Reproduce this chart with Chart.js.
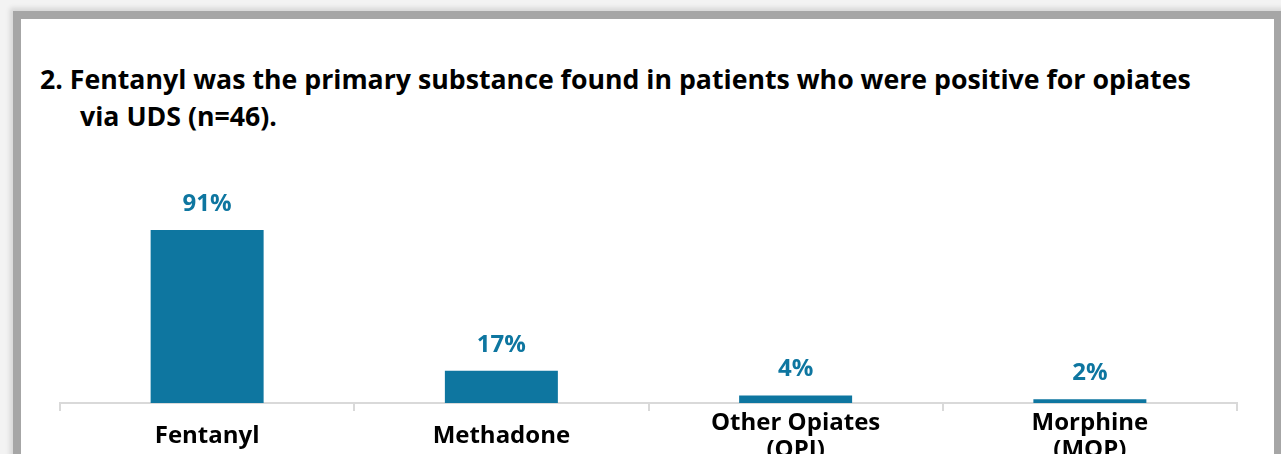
<!DOCTYPE html>
<html>
<head>
<meta charset="utf-8">
<script src="https://cdn.jsdelivr.net/npm/chart.js@4"></script>
<style>
  html, body { margin:0; padding:0; width:1281px; height:454px; overflow:hidden; background:#f3f3f3; }
  #frame { position:absolute; left:13px; top:11px; width:1253px; height:520px; background:#fff;
           border:8px solid #a6a6a6; box-shadow:0 0 5px 3px rgba(0,0,0,0.12); }
  #title { position:absolute; left:40px; top:60px; width:1230px; font-family:"Open Sans", sans-serif;
           font-weight:700; font-size:26.7px; line-height:37px; color:#000; padding-left:40px; text-indent:-40px; white-space:nowrap; }
  #wrap { position:absolute; left:21px; top:150px; width:1253px; height:330px; }
</style>
</head>
<body>
<div id="frame"></div>
<div id="title">2. Fentanyl was the primary substance found in patients who were positive for opiates<br>via UDS (n=46).</div>
<div id="wrap"><canvas id="c"></canvas></div>
<script>
const categories = [["Fentanyl"], ["Methadone"], ["Other Opiates", "(OPI)"], ["Morphine", "(MOP)"]];
const values = [91, 17, 4, 2];
const valueLabels = ["91%", "17%", "4%", "2%"];

const barColor = "#0e76a0";

const valueLabelPlugin = {
  id: "valueLabels",
  afterDatasetsDraw(chart) {
    const ctx = chart.ctx;
    const meta = chart.getDatasetMeta(0);
    ctx.save();
    ctx.font = "700 24px 'Open Sans', sans-serif";
    ctx.fillStyle = barColor;
    ctx.textAlign = "center";
    ctx.textBaseline = "middle";
    meta.data.forEach((bar, i) => {
      ctx.fillText(valueLabels[i], bar.x, bar.y - 26);
    });
    ctx.restore();
  }
};

new Chart(document.getElementById("c"), {
  type: "bar",
  data: {
    labels: categories,
    datasets: [{ data: values, backgroundColor: barColor, borderWidth: 0,
                 barPercentage: 0.384, categoryPercentage: 1.0 }]
  },
  options: {
    responsive: true,
    maintainAspectRatio: false,
    animation: false,
    layout: { padding: { left: 39, right: 37, top: 63, bottom: 17 } },
    plugins: { legend: { display: false }, tooltip: { enabled: false }, title: { display: false } },
    scales: {
      x: {
        offset: true,
        grid: { display: true, drawOnChartArea: false, tickLength: 8, color: "#d9d9d9", lineWidth: 2 },
        border: { display: true, color: "#d9d9d9", width: 2 },
        ticks: { color: "#000", font: { family: "'Open Sans', sans-serif", weight: "700", size: 24, lineHeight: "27px" },
                 padding: 12, maxRotation: 0, autoSkip: false, crossAlign: "center" },
        afterFit(scale) { scale.height = 60; }
      },
      y: { display: false, min: 0, max: 100 }
    }
  },
  plugins: [valueLabelPlugin]
});
</script>
</body>
</html>
